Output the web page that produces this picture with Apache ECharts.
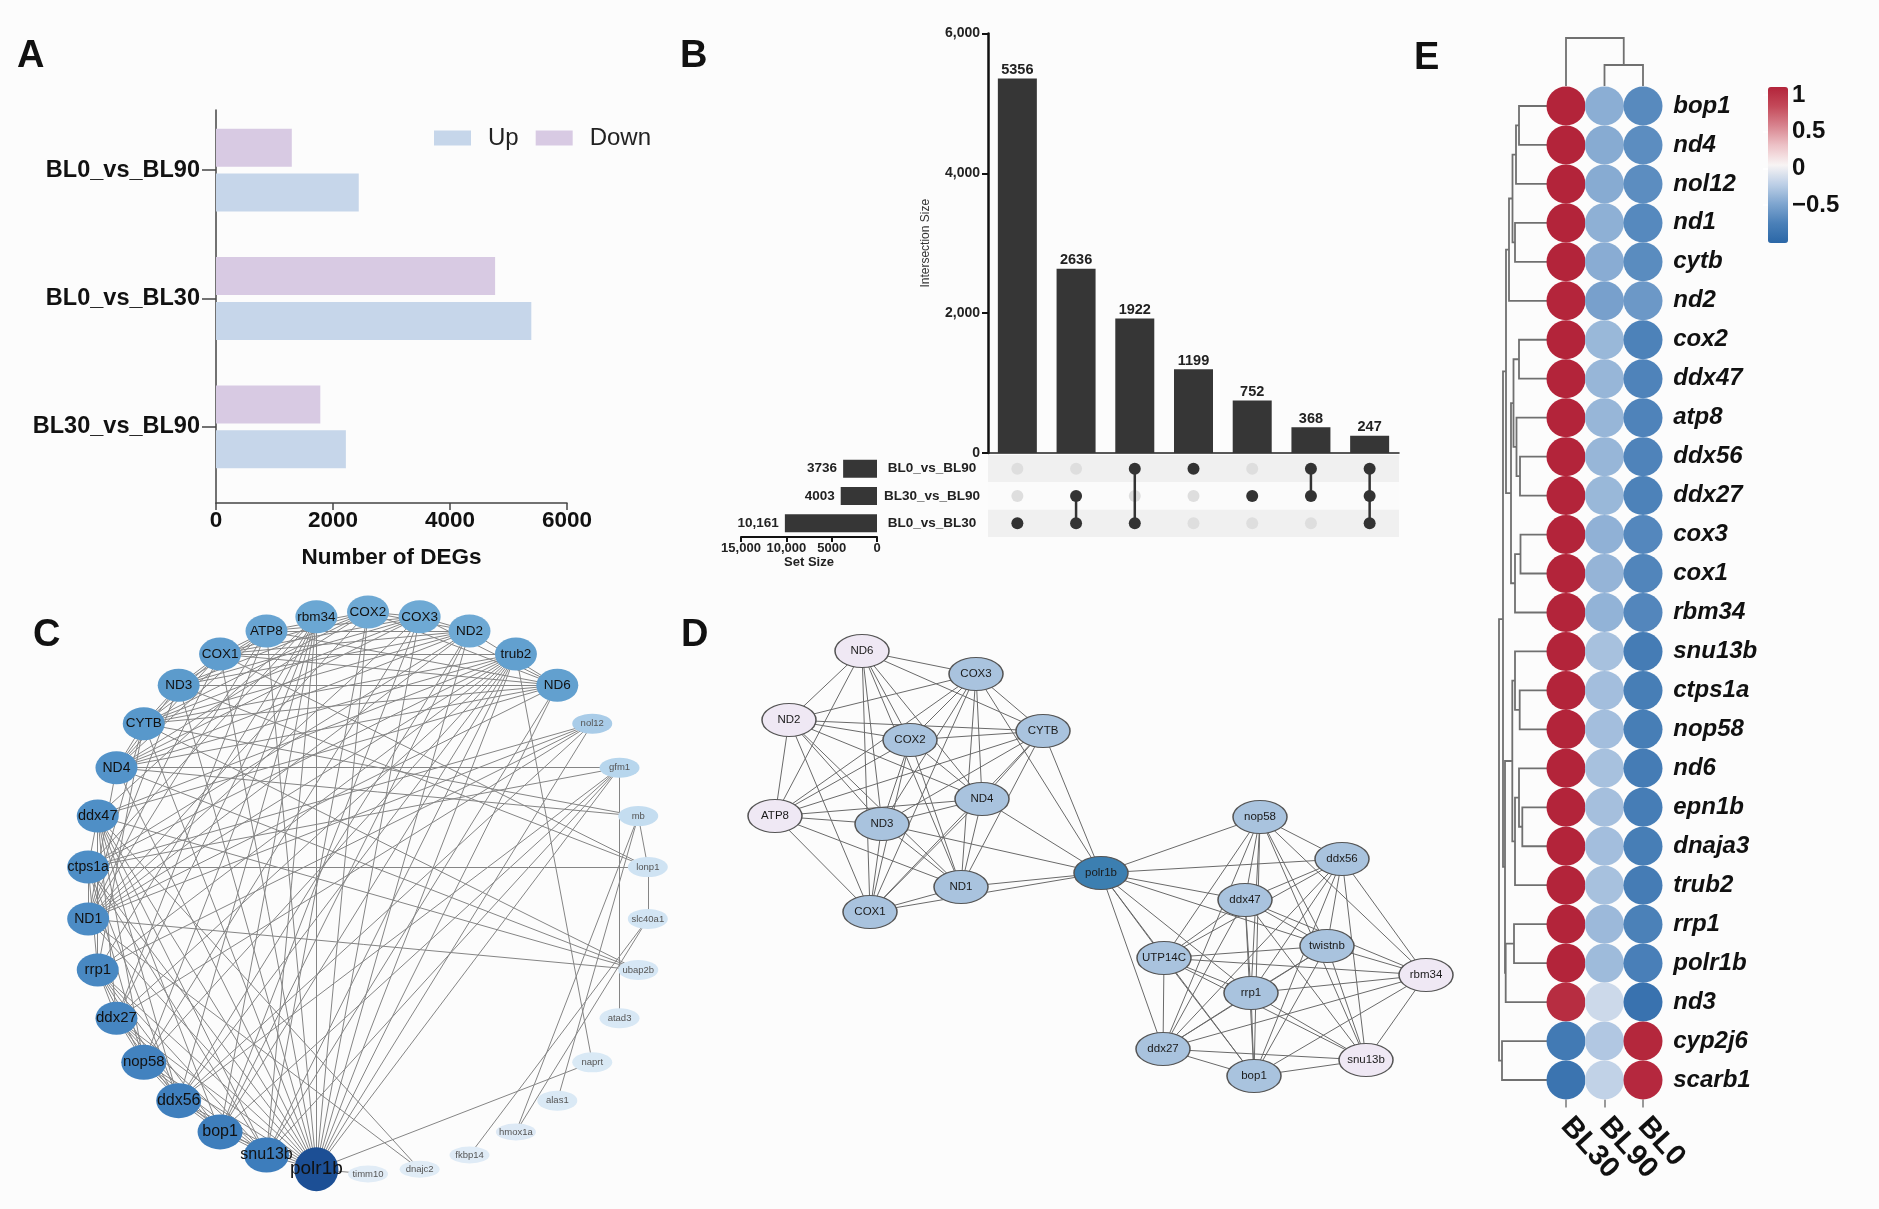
<!DOCTYPE html>
<html><head><meta charset="utf-8">
<script src="https://cdn.jsdelivr.net/npm/echarts@6/dist/echarts.min.js"></script>
<style>html,body{margin:0;padding:0;background:#fcfcfc}#c{width:1879px;height:1209px}</style>
</head><body><div id="c"></div>
<script>
// ================= DATA =================
// A: DEG counts
const degComparisons = ['BL0_vs_BL90', 'BL0_vs_BL30', 'BL30_vs_BL90'];
const degUp = [2440, 5390, 2220];
const degDown = [1296, 4771, 1783];

// B: UpSet
const setNames = ['BL0_vs_BL90', 'BL30_vs_BL90', 'BL0_vs_BL30'];
const setSizes = [3736, 4003, 10161];
const intersectionSizes = [5356, 2636, 1922, 1199, 752, 368, 247];
const intersectionMembers = [[2], [1, 2], [0, 2], [0], [1], [0, 1], [0, 1, 2]];

// C: circular network (clockwise order starting just below 3 o'clock)
const cNodes = ['slc40a1','ubap2b','atad3','naprt','alas1','hmox1a','fkbp14','dnajc2','timm10','polr1b',
  'snu13b','bop1','ddx56','nop58','ddx27','rrp1','ND1','ctps1a','ddx47','ND4','CYTB','ND3','COX1','ATP8',
  'rbm34','COX2','COX3','ND2','trub2','ND6','nol12','gfm1','mb','lonp1'];
const cSmallNodes = ['nol12','gfm1','mb','lonp1','slc40a1','ubap2b','atad3','naprt','alas1','hmox1a','fkbp14','dnajc2','timm10'];
const cEdges = [
  'COX1|COX2','COX1|COX3','COX1|ND1','COX1|ND2','COX1|ND3','COX1|ND4','COX1|ND6','COX1|CYTB','COX1|ATP8',
  'COX2|COX3','COX2|ND1','COX2|ND2','COX2|ND3','COX2|ND4','COX2|ND6','COX2|CYTB','COX2|ATP8',
  'COX3|ND1','COX3|ND2','COX3|ND3','COX3|ND4','COX3|ND6','COX3|CYTB','COX3|ATP8',
  'ND1|ND2','ND1|ND3','ND1|ND4','ND1|ND6','ND1|CYTB','ND1|ATP8',
  'ND2|ND3','ND2|ND4','ND2|ND6','ND2|CYTB','ND2|ATP8',
  'ND3|ND4','ND3|ND6','ND3|CYTB','ND3|ATP8','ND4|ND6','ND4|CYTB','ND4|ATP8','ND6|CYTB','ND6|ATP8','CYTB|ATP8',
  'rbm34|ddx47','rbm34|rrp1','rbm34|ddx27','rbm34|nop58','rbm34|ddx56','rbm34|bop1','rbm34|snu13b','rbm34|polr1b','rbm34|ctps1a',
  'trub2|ddx47','trub2|ctps1a','trub2|rrp1','trub2|nop58','trub2|ddx56','trub2|snu13b','trub2|polr1b','trub2|ddx27','trub2|bop1',
  'nol12|ctps1a','nol12|rrp1','nol12|ddx27','nol12|ddx56','nol12|polr1b','nol12|ND1',
  'ddx47|ctps1a','ddx47|rrp1','ddx47|ddx27','ddx47|nop58','ddx47|ddx56','ddx47|bop1','ddx47|snu13b','ddx47|polr1b',
  'ctps1a|rrp1','ctps1a|nop58','ctps1a|ddx56','ctps1a|polr1b','ctps1a|snu13b','ctps1a|ND1',
  'rrp1|ddx27','rrp1|nop58','rrp1|ddx56','rrp1|bop1','rrp1|snu13b','rrp1|polr1b',
  'ddx27|nop58','ddx27|ddx56','ddx27|bop1','ddx27|snu13b','ddx27|polr1b',
  'nop58|ddx56','nop58|bop1','nop58|snu13b','nop58|polr1b','ddx56|bop1','ddx56|snu13b','ddx56|polr1b',
  'bop1|snu13b','bop1|polr1b','snu13b|polr1b',
  'polr1b|COX1','polr1b|COX2','polr1b|COX3','polr1b|ND2','polr1b|ND3','polr1b|ND4','polr1b|ND6','polr1b|CYTB','polr1b|ATP8','polr1b|ND1',
  'bop1|COX3','bop1|ND2','snu13b|ND6','snu13b|COX2','ddx56|ND2','nop58|COX3','ddx27|ATP8','rrp1|CYTB',
  'ND1|trub2','ddx47|ND6','ctps1a|ND2','ND4|trub2','CYTB|trub2','COX1|trub2',
  'gfm1|polr1b','gfm1|snu13b','gfm1|bop1','gfm1|ddx56','gfm1|ctps1a','gfm1|atad3','gfm1|ND4',
  'mb|lonp1','mb|hmox1a','mb|alas1','mb|CYTB','mb|ND4',
  'lonp1|ctps1a','lonp1|slc40a1','lonp1|COX1','lonp1|ND3',
  'slc40a1|fkbp14','slc40a1|hmox1a',
  'ubap2b|ND1','ubap2b|ddx47','ubap2b|ND4','ubap2b|CYTB',
  'naprt|polr1b','naprt|trub2','timm10|polr1b','dnajc2|ddx47','dnajc2|ND1'
];

// D: PPI network (layout positions, arbitrary units)
const dNodes = ['ND6','COX3','ND2','COX2','CYTB','ATP8','ND3','ND4','ND1','COX1','polr1b',
  'nop58','ddx56','ddx47','twistnb','UTP14C','rbm34','rrp1','ddx27','bop1','snu13b'];
const dNodeX = [162, 276, 89, 210, 343, 75, 182, 282, 261, 170, 401, 560, 642, 545, 627, 464, 726, 551, 463, 554, 666];
const dNodeY = [51, 74, 120, 140, 131, 216, 224, 199, 287, 312, 273, 217, 259, 300, 346, 358, 375, 393, 449, 476, 460];
const dDownNodes = ['ND6', 'ND2', 'ATP8', 'rbm34', 'snu13b'];
const dEdges = [
  'ND6|COX3','ND6|ND2','ND6|COX2','ND6|CYTB','ND6|ATP8','ND6|ND3','ND6|ND4','ND6|ND1','ND6|COX1',
  'COX3|ND2','COX3|COX2','COX3|CYTB','COX3|ATP8','COX3|ND3','COX3|ND4','COX3|ND1','COX3|COX1',
  'ND2|COX2','ND2|CYTB','ND2|ATP8','ND2|ND3','ND2|ND4','ND2|ND1','ND2|COX1',
  'COX2|CYTB','COX2|ATP8','COX2|ND3','COX2|ND4','COX2|ND1','COX2|COX1',
  'CYTB|ATP8','CYTB|ND3','CYTB|ND4','CYTB|ND1','CYTB|COX1',
  'ATP8|ND3','ATP8|ND4','ATP8|ND1','ATP8|COX1','ND3|ND4','ND3|ND1','ND3|COX1','ND4|ND1','ND4|COX1','ND1|COX1',
  'polr1b|CYTB','polr1b|COX3','polr1b|ND4','polr1b|ND3','polr1b|ND1','polr1b|COX1',
  'polr1b|nop58','polr1b|ddx56','polr1b|ddx47','polr1b|twistnb','polr1b|UTP14C','polr1b|rrp1','polr1b|ddx27','polr1b|bop1',
  'nop58|ddx56','nop58|ddx47','nop58|twistnb','nop58|UTP14C','nop58|rbm34','nop58|rrp1','nop58|ddx27','nop58|bop1','nop58|snu13b',
  'ddx56|ddx47','ddx56|twistnb','ddx56|UTP14C','ddx56|rbm34','ddx56|rrp1','ddx56|ddx27','ddx56|bop1','ddx56|snu13b',
  'ddx47|twistnb','ddx47|UTP14C','ddx47|rbm34','ddx47|rrp1','ddx47|ddx27','ddx47|bop1','ddx47|snu13b',
  'twistnb|UTP14C','twistnb|rbm34','twistnb|rrp1','twistnb|ddx27','twistnb|bop1','twistnb|snu13b',
  'UTP14C|rbm34','UTP14C|rrp1','UTP14C|ddx27','UTP14C|bop1','UTP14C|snu13b',
  'rbm34|rrp1','rbm34|ddx27','rbm34|bop1','rbm34|snu13b',
  'rrp1|ddx27','rrp1|bop1','rrp1|snu13b','ddx27|bop1','ddx27|snu13b','bop1|snu13b'
];

// E: z-scored expression heatmap
const hmGenes = ['bop1','nd4','nol12','nd1','cytb','nd2','cox2','ddx47','atp8','ddx56','ddx27','cox3','cox1',
  'rbm34','snu13b','ctps1a','nop58','nd6','epn1b','dnaja3','trub2','rrp1','polr1b','nd3','cyp2j6','scarb1'];
const hmSamples = ['BL30', 'BL90', 'BL0'];
const hmBL30 = [1.11,1.11,1.11,1.11,1.11,1.10,1.11,1.11,1.11,1.11,1.11,1.11,1.11,1.11,1.11,1.11,1.11,1.11,1.11,1.11,1.11,1.11,1.11,1.05,-0.82,-0.88];
const hmBL90 = [-0.43,-0.45,-0.45,-0.42,-0.44,-0.52,-0.37,-0.38,-0.38,-0.38,-0.37,-0.41,-0.39,-0.40,-0.31,-0.33,-0.33,-0.31,-0.32,-0.33,-0.31,-0.36,-0.35,-0.15,-0.27,-0.20];
const hmBL0 = [-0.68,-0.66,-0.66,-0.69,-0.67,-0.58,-0.74,-0.73,-0.73,-0.73,-0.74,-0.70,-0.72,-0.71,-0.80,-0.78,-0.78,-0.80,-0.79,-0.78,-0.80,-0.75,-0.76,-0.90,1.09,1.08];
// dendrograms: [childA, childB, height]; leaves 0..n-1, merges numbered n, n+1, ...
const rowMerges = [[0,1,28],[26,2,31],[3,4,32],[27,28,34.5],[29,5,38],[6,7,28],[9,10,27],[8,32,30.5],[31,33,33.5],
  [11,12,26.5],[35,13,32],[34,36,36],[30,37,41],[15,16,27.3],[14,39,32],[18,19,24.7],[17,41,28],[42,20,32],
  [40,43,34.7],[21,22,33],[45,23,41.3],[44,46,42],[38,47,44],[24,25,45],[48,49,48]];
const colMerges = [[1,2,21],[0,3,48]];
const colorbarTicks = [1, 0.5, 0, -0.5];
const colorRange = [-1.02, 1.11];

// ================= STYLES =================
const FONT = '"Liberation Sans", Arial, sans-serif';
const cNodeColor = {
  COX2:'#6ea9d4', COX3:'#6ea9d4', rbm34:'#6ba7d3', ATP8:'#68a4d2', ND2:'#6ea9d4', trub2:'#62a0cf', ND6:'#62a0cf',
  COX1:'#5f9dce', ND3:'#5c9bcc', CYTB:'#5898cb', ND4:'#5393c9', ddx47:'#4f8fc6', ctps1a:'#4e8ec6', ND1:'#4c8cc5',
  rrp1:'#4888c2', ddx27:'#4686c1', nop58:'#4282bf', ddx56:'#3f7fbd', bop1:'#3e7ebc', snu13b:'#3d7dbc', polr1b:'#1c4f95',
  nol12:'#a9cce8', gfm1:'#b7d6ed', mb:'#c4ddf0', lonp1:'#cfe3f3', slc40a1:'#d2e5f4', ubap2b:'#d6e7f5', atad3:'#d8e8f5',
  naprt:'#d9e9f5', alas1:'#dae9f5', hmox1a:'#dde9f5', fkbp14:'#dfebf6', dnajc2:'#e0ecf6', timm10:'#e1ecf6'
};
const cLabelSize = {polr1b:19, snu13b:16, bop1:16, ddx56:16, nop58:15, ddx27:15, rrp1:15, ctps1a:14, ddx47:14.5, ND1:14, ND4:14};
function cSize(n) {
  if (n === 'polr1b') return [44, 44];
  if (['snu13b','ddx56','nop58','bop1'].includes(n)) return [45, 35];
  if (['hmox1a','fkbp14','dnajc2','timm10'].includes(n)) return [40, 17];
  if (cSmallNodes.includes(n)) return [40, 20];
  return [42, 33];
}

function dendroLayout(merges, n) {
  const pos = [], hgt = [];
  for (let i = 0; i < n; i++) { pos.push(i); hgt.push(0); }
  merges.forEach(m => { pos.push((pos[m[0]] + pos[m[1]]) / 2); hgt.push(m[2]); });
  return {pos, hgt};
}
const rowLay = dendroLayout(rowMerges, hmGenes.length);
const colLay = dendroLayout(colMerges, hmSamples.length);

const commaBig = v => (v >= 10000 ? v.toLocaleString('en-US') : String(v));

const hmValues = [hmBL30, hmBL90, hmBL0];
const hmData = [];
hmGenes.forEach((g, r) => hmValues.forEach((arr, c) => hmData.push([c, r, arr[r]])));

const activeCells = [], inactiveCells = [], memberLines = [];
intersectionMembers.forEach((mem, c) => {
  setNames.forEach((s, r) => (mem.includes(r) ? activeCells : inactiveCells).push([c, r]));
  if (mem.length > 1) memberLines.push([c, Math.min(...mem), Math.max(...mem)]);
});

const hidden = {show: false};
const noAxisParts = {axisLine: hidden, axisTick: hidden, axisLabel: hidden, splitLine: hidden};

const chart = echarts.init(document.getElementById('c'), null, {renderer: 'canvas'});
const option = {
  backgroundColor: '#fcfcfc',
  animation: false,
  textStyle: {fontFamily: FONT},
  title: [
    {text: 'A', left: 17, top: 38}, {text: 'B', left: 680, top: 38}, {text: 'C', left: 33, top: 617},
    {text: 'D', left: 681, top: 617}, {text: 'E', left: 1414, top: 40}
  ].map(t => Object.assign({padding: 0, textStyle: {fontSize: 38, fontWeight: 'bold', color: '#111', fontFamily: FONT}}, t)),
  legend: {
    data: ['Up', 'Down'], left: 429, top: 121, icon: 'rect', itemWidth: 37, itemHeight: 15, itemGap: 17,
    textStyle: {fontSize: 24, color: '#222', padding: [0, 0, 0, 12], fontFamily: FONT}, selectedMode: false
  },
  grid: [
    {left: 216, top: 106, width: 351, height: 385},   // 0 A bars + category axis
    {left: 988, top: 33.5, width: 411, height: 419.5},
    {left: 988, top: 455, width: 411, height: 82},
    {left: 741, top: 455, width: 136, height: 82},
    {left: 700, top: 600, width: 800, height: 520},
    {left: 1546.75, top: 86.5, width: 115.5, height: 1013},
    {left: 1498, top: 86.5, width: 49, height: 1013},
    {left: 1546.75, top: 36, width: 115.5, height: 50},
    {left: 1768, top: 87, width: 20, height: 156},
    {left: 216, top: 110, width: 351, height: 393}    // 9 A frame axes
  ].map(g => Object.assign({outerBoundsMode: 'none'}, g)),
  polar: [{center: [368, 893], radius: [0, 281]}],
  angleAxis: [{polarIndex: 0, type: 'category', data: cNodes, startAngle: 0, clockwise: true, boundaryGap: true, ...noAxisParts}],
  radiusAxis: [{polarIndex: 0, type: 'value', min: 0, max: 1, ...noAxisParts}],
  xAxis: [
    {gridIndex: 0, type: 'value', min: 0, max: 6000, ...noAxisParts},
    {gridIndex: 1, type: 'category', data: intersectionSizes.map((v, i) => 'I' + i),
      axisLine: {show: true, lineStyle: {color: '#222', width: 1.5}}, axisTick: hidden, axisLabel: hidden, splitLine: hidden},
    {gridIndex: 2, type: 'category', data: intersectionSizes.map((v, i) => 'I' + i), ...noAxisParts},
    {gridIndex: 3, type: 'value', min: 0, max: 15000, interval: 5000, inverse: true,
      axisLine: {show: true, lineStyle: {color: '#111', width: 2}},
      axisTick: {show: true, length: 5, lineStyle: {color: '#111', width: 2}},
      axisLabel: {fontSize: 13, fontWeight: 'bold', color: '#222', margin: 5, formatter: commaBig},
      splitLine: hidden,
      name: 'Set Size', nameLocation: 'middle', nameGap: 19,
      nameTextStyle: {fontSize: 13, fontWeight: 'bold', color: '#222'}},
    {gridIndex: 4, type: 'value', min: 0, max: 800, ...noAxisParts},
    {gridIndex: 5, type: 'category', data: hmSamples, position: 'bottom',
      axisLine: hidden,
      axisTick: {show: true, alignWithLabel: true, length: 8, lineStyle: {color: '#999', width: 2}},
      axisLabel: {rotate: -48, fontSize: 29, fontWeight: 'bold', color: '#111', margin: 22, interval: 0},
      splitLine: hidden},
    {gridIndex: 6, type: 'value', min: 0, max: 49, inverse: true, ...noAxisParts},
    {gridIndex: 7, type: 'value', min: -0.5, max: 2.5, ...noAxisParts},
    {gridIndex: 8, type: 'value', min: 0, max: 1, ...noAxisParts},
    {gridIndex: 9, type: 'value', min: 0, max: 6000, interval: 2000,
      axisLine: {show: true, lineStyle: {color: '#444', width: 1.5}},
      axisTick: {show: true, length: 7, lineStyle: {color: '#444', width: 1.5}},
      axisLabel: {fontSize: 22.5, fontWeight: 'bold', color: '#111', margin: 6, formatter: v => String(v)},
      splitLine: hidden,
      name: 'Number of DEGs', nameLocation: 'middle', nameGap: 43,
      nameTextStyle: {fontSize: 22.5, fontWeight: 'bold', color: '#111'}}
  ],
  yAxis: [
    {gridIndex: 0, type: 'category', data: degComparisons, inverse: true,
      axisLine: hidden,
      axisTick: {show: true, alignWithLabel: true, length: 14, lineStyle: {color: '#444', width: 1.5}},
      axisLabel: {fontSize: 23.5, fontWeight: 'bold', color: '#111', margin: 16},
      splitLine: hidden},
    {gridIndex: 1, type: 'value', min: 0, max: 6000, interval: 2000,
      axisLine: {show: true, lineStyle: {color: '#111', width: 2.5}},
      axisTick: {show: true, length: 6, lineStyle: {color: '#111', width: 2}},
      axisLabel: {fontSize: 14, fontWeight: 'bold', color: '#222', margin: 8, formatter: v => v.toLocaleString('en-US')},
      splitLine: hidden,
      name: 'Intersection Size', nameLocation: 'middle', nameRotate: 90, nameGap: 56,
      nameTextStyle: {fontSize: 12, color: '#333'}},
    {gridIndex: 2, type: 'category', data: setNames, inverse: true,
      axisLine: hidden, axisTick: hidden, splitLine: hidden,
      axisLabel: {fontSize: 13.5, fontWeight: 'bold', color: '#222', align: 'center', margin: 56},
      splitArea: {show: true, interval: 0, areaStyle: {color: ['#f0f0f0', '#fbfbfb']}}},
    {gridIndex: 3, type: 'category', data: setNames, inverse: true, ...noAxisParts},
    {gridIndex: 4, type: 'value', min: 0, max: 520, inverse: true, ...noAxisParts},
    {gridIndex: 5, type: 'category', data: hmGenes, inverse: true, position: 'right',
      axisLine: hidden, axisTick: hidden, splitLine: hidden,
      axisLabel: {fontSize: 24, fontWeight: 'bold', fontStyle: 'italic', color: '#111', margin: 11, interval: 0}},
    {gridIndex: 6, type: 'value', min: -0.5, max: 25.5, inverse: true, ...noAxisParts},
    {gridIndex: 7, type: 'value', min: 0, max: 50, ...noAxisParts},
    {gridIndex: 8, type: 'value', min: colorRange[0], max: colorRange[1], position: 'right',
      axisLine: hidden, splitLine: hidden,
      axisTick: {show: true, inside: true, length: 5, customValues: colorbarTicks, lineStyle: {color: '#fff', width: 1.5}},
      axisLabel: {show: true, customValues: colorbarTicks, fontSize: 24, fontWeight: 'bold', color: '#111', margin: 4,
        formatter: v => (v < 0 ? '\u2212' + Math.abs(v) : String(v))}},
    {gridIndex: 9, type: 'value', min: 0, max: 1,
      axisLine: {show: true, lineStyle: {color: '#444', width: 1.5}}, axisTick: hidden, axisLabel: hidden, splitLine: hidden}
  ],
  visualMap: [{
    type: 'continuous', seriesIndex: 9, dimension: 2, min: colorRange[0], max: colorRange[1],
    left: 1768, top: 87, itemWidth: 20, itemHeight: 156, padding: 0, calculable: false, show: true,
    inRange: {color: ['#2b67a7', '#4a80b8', '#7ea5cf', '#bccfe6', '#f8f4f4', '#edc2c7', '#d8848f', '#c44a5a', '#b3243a']}
  }],
  series: [
    // 0,1: A bars
    {type: 'bar', name: 'Down', xAxisIndex: 0, yAxisIndex: 0, data: degDown, barWidth: 38, barGap: '18%',
      itemStyle: {color: '#d8cae3'}},
    {type: 'bar', name: 'Up', xAxisIndex: 0, yAxisIndex: 0, data: degUp, barWidth: 38, barGap: '18%',
      itemStyle: {color: '#c6d6ea'}},
    // 2: B intersection bars
    {type: 'bar', xAxisIndex: 1, yAxisIndex: 1, data: intersectionSizes, barWidth: 39,
      itemStyle: {color: '#363636'},
      label: {show: true, position: 'top', distance: 1, fontSize: 14.5, fontWeight: 'bold', color: '#222'}},
    // 3: matrix inactive dots
    {type: 'scatter', xAxisIndex: 2, yAxisIndex: 2, data: inactiveCells, symbolSize: 12,
      itemStyle: {color: '#dedede', opacity: 1}, z: 2},
    // 4: matrix connecting lines
    {type: 'custom', xAxisIndex: 2, yAxisIndex: 2, data: memberLines, z: 3,
      renderItem: (p, api) => {
        const m = memberLines[p.dataIndex];
        const a = api.coord([m[0], m[1]]), b = api.coord([m[0], m[2]]);
        return {type: 'line', shape: {x1: a[0], y1: a[1], x2: b[0], y2: b[1]}, style: {stroke: '#333', lineWidth: 2.5}};
      }},
    // 5: matrix active dots
    {type: 'scatter', xAxisIndex: 2, yAxisIndex: 2, data: activeCells, symbolSize: 12,
      itemStyle: {color: '#333', opacity: 1}, z: 4},
    // 6: set size bars
    {type: 'bar', xAxisIndex: 3, yAxisIndex: 3, data: setSizes, barWidth: 18, itemStyle: {color: '#363636'},
      label: {show: true, position: 'left', distance: 6, fontSize: 13.5, fontWeight: 'bold', color: '#222',
        formatter: p => commaBig(p.value)}},
    // 7: C circular network
    {type: 'graph', coordinateSystem: 'polar', polarIndex: 0, layout: 'none', z: 3,
      data: cNodes.map((n, i) => ({
        name: n, value: [1, i], symbolSize: cSize(n),
        itemStyle: {color: cNodeColor[n]},
        label: {fontSize: cSmallNodes.includes(n) ? 9.5 : (cLabelSize[n] || 13.5), color: cSmallNodes.includes(n) ? '#555' : '#111'}
      })),
      links: cEdges.map(e => { const s = e.split('|'); return {source: s[0], target: s[1]}; }),
      label: {show: true, position: 'inside', fontFamily: FONT},
      lineStyle: {color: '#858585', width: 1, opacity: 1, curveness: 0},
      emphasis: {disabled: true}},
    // 8: D network
    {type: 'graph', coordinateSystem: 'cartesian2d', xAxisIndex: 4, yAxisIndex: 4, layout: 'none', z: 3,
      data: dNodes.map((n, i) => ({
        name: n, value: [dNodeX[i], dNodeY[i]],
        itemStyle: {color: n === 'polr1b' ? '#3c7fb1' : (dDownNodes.includes(n) ? '#efe8f4' : '#a9c3de')}
      })),
      links: dEdges.map(e => { const s = e.split('|'); return {source: s[0], target: s[1]}; }),
      symbolSize: [54, 33],
      itemStyle: {borderColor: '#555', borderWidth: 1.2},
      label: {show: true, position: 'inside', fontSize: 11.5, color: '#1a1a1a', fontFamily: FONT},
      lineStyle: {color: '#6a6a6a', width: 1, opacity: 1, curveness: 0},
      emphasis: {disabled: true}},
    // 9: E dot heatmap
    {type: 'scatter', xAxisIndex: 5, yAxisIndex: 5, data: hmData, symbolSize: 39,
      itemStyle: {opacity: 1}},
    // 10: row dendrogram
    {type: 'custom', xAxisIndex: 6, yAxisIndex: 6, data: rowMerges,
      renderItem: (p, api) => {
        const m = rowMerges[p.dataIndex], a = m[0], b = m[1], h = m[2];
        const pts = [[rowLay.hgt[a], rowLay.pos[a]], [h, rowLay.pos[a]], [h, rowLay.pos[b]], [rowLay.hgt[b], rowLay.pos[b]]]
          .map(q => api.coord(q));
        return {type: 'polyline', shape: {points: pts}, style: {stroke: '#707070', lineWidth: 1.8, fill: null}};
      }},
    // 11: column dendrogram
    {type: 'custom', xAxisIndex: 7, yAxisIndex: 7, data: colMerges,
      renderItem: (p, api) => {
        const m = colMerges[p.dataIndex], a = m[0], b = m[1], h = m[2];
        const pts = [[colLay.pos[a], colLay.hgt[a]], [colLay.pos[a], h], [colLay.pos[b], h], [colLay.pos[b], colLay.hgt[b]]]
          .map(q => api.coord(q));
        return {type: 'polyline', shape: {points: pts}, style: {stroke: '#707070', lineWidth: 1.8, fill: null}};
      }}
  ]
};
chart.setOption(option);
</script>
</body></html>
